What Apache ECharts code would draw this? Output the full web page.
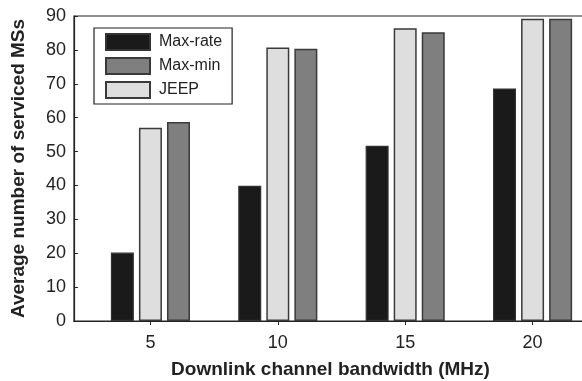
<!DOCTYPE html>
<html>
<head>
<meta charset="utf-8">
<script src="https://cdn.jsdelivr.net/npm/echarts@6/dist/echarts.min.js"></script>
<style>html,body{margin:0;padding:0;background:#fff}#c{width:582px;height:381px}</style>
</head>
<body>
<div id="c"></div>
<script>
const bandwidths = [5, 10, 15, 20];
const maxRate = [20.2, 39.9, 51.7, 68.6];
const jeep = [57.0, 80.7, 86.4, 89.2];
const maxMin = [58.7, 80.3, 85.2, 89.2];
const yTicks = [0, 10, 20, 30, 40, 50, 60, 70, 80, 90];

const font = '"Liberation Sans", Arial, Helvetica, sans-serif';
const pair = arr => bandwidths.map((b, i) => [b, arr[i]]);

const chart = echarts.init(document.getElementById('c'), null, {renderer: 'canvas'});
chart.setOption({
  animation: false,
  backgroundColor: '#fff',
  textStyle: {fontFamily: font},
  grid: {left: 74, top: 16, width: 535, bottom: 60, outerBoundsMode: 'none', containLabel: false,
         show: true, borderColor: '#222', borderWidth: 1.2, backgroundColor: 'transparent'},
  legend: {
    orient: 'vertical', left: 94, top: 28,
    data: ['Max-rate', 'Max-min', 'JEEP'],
    icon: 'rect',
    itemWidth: 44, itemHeight: 16, itemGap: 6,
    padding: [5, 10, 5, 11],
    borderColor: '#222', borderWidth: 1.2, backgroundColor: '#fff',
    textStyle: {fontFamily: font, fontSize: 16, color: '#222', padding: [0, 0, 0, 4]}
  },
  xAxis: [{
    type: 'value', min: 2, max: 23, position: 'bottom',
    name: 'Downlink channel bandwidth (MHz)', nameLocation: 'middle', nameGap: 39,
    nameTextStyle: {fontFamily: font, fontSize: 19, fontWeight: 'bold', color: '#222', padding: [0, 22, 0, 0]},
    axisLine: {lineStyle: {color: '#222', width: 1.2}},
    axisTick: {show: false},
    axisLabel: {fontSize: 18, color: '#222', margin: 13, customValues: bandwidths, formatter: v => bandwidths.includes(v) ? String(v) : ''},
    splitLine: {show: false}
  }, {
    type: 'value', min: 2, max: 23, position: 'top',
    axisLine: {show: true, lineStyle: {color: '#222', width: 1.2}},
    axisTick: {show: true, inside: true, length: 4, customValues: bandwidths, lineStyle: {color: '#222'}},
    axisLabel: {show: false},
    splitLine: {show: false}
  }],
  yAxis: [{
    type: 'value', min: 0, max: 90, interval: 10, position: 'left',
    name: 'Average number of serviced MSs', nameLocation: 'middle', nameGap: 46,
    nameTextStyle: {fontFamily: font, fontSize: 19, fontWeight: 'bold', color: '#222'},
    axisLine: {show: true, lineStyle: {color: '#222', width: 1.2}},
    axisTick: {show: true, inside: true, length: 4, lineStyle: {color: '#222'}},
    axisLabel: {fontSize: 18, color: '#222', margin: 8, formatter: v => yTicks.includes(v) ? String(v) : ''},
    splitLine: {show: false}
  }, {
    type: 'value', min: 0, max: 90, interval: 10, position: 'right',
    axisLine: {show: true, lineStyle: {color: '#222', width: 1.2}},
    axisTick: {show: true, inside: true, length: 5, lineStyle: {color: '#222'}},
    axisLabel: {show: false},
    splitLine: {show: false}
  }],
  series: [
    {name: 'Max-rate', type: 'bar', data: pair(maxRate), barWidth: 23, barGap: '22%',
     itemStyle: {color: '#1a1a1a', borderColor: '#333', borderWidth: 1.2}},
    {name: 'JEEP', type: 'bar', data: pair(jeep), barWidth: 23, barGap: '22%',
     itemStyle: {color: '#dedede', borderColor: '#3a3a3a', borderWidth: 1.5}},
    {name: 'Max-min', type: 'bar', data: pair(maxMin), barWidth: 23, barGap: '22%',
     itemStyle: {color: '#7f7f7f', borderColor: '#3a3a3a', borderWidth: 1.5}}
  ]
});
</script>
</body>
</html>
